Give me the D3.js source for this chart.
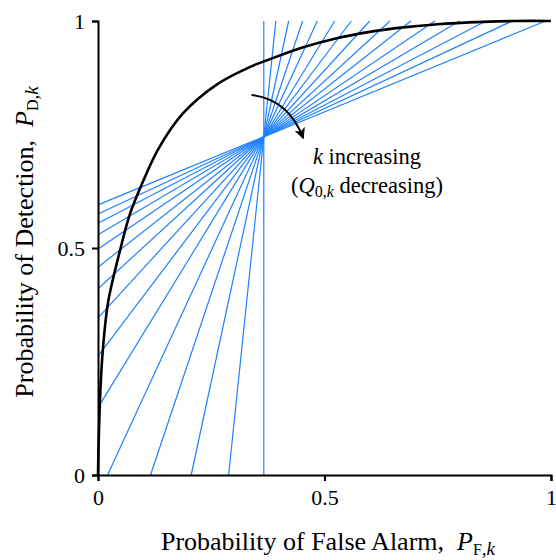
<!DOCTYPE html>
<html>
<head>
<meta charset="utf-8">
<script src="https://cdn.jsdelivr.net/npm/d3@7"></script>
<style>
  body { margin: 0; background: #fff; }
  svg text { font-family: "Liberation Serif", "Times New Roman", Times, "Nimbus Roman", "DejaVu Serif", serif !important; fill: #000; }
</style>
</head>
<body>
<div class="chart"></div>
<script>
// ROC curve
var rocPF = [0, 0.001, 0.0044, 0.008, 0.014, 0.023, 0.05, 0.0706, 0.1, 0.133, 0.188, 0.262, 0.336, 0.38, 0.453, 0.527, 0.6, 0.674, 0.75, 0.85, 0.92, 1];
var rocPD = [0, 0.055, 0.165, 0.238, 0.313, 0.385, 0.5, 0.575, 0.648, 0.718, 0.797, 0.86, 0.899, 0.916, 0.942, 0.962, 0.976, 0.986, 0.993, 0.998, 1, 1];

// pencil of lines through one point, one slope per k
var pivot = [0.366, 0.745];
var slopes = [0.41, 0.465, 0.52, 0.59, 0.675, 0.785, 0.915, 1.09, 1.32, 1.63, 2.16, 2.98, 4.65, 9.6, Infinity];

var tickValues = [0, 0.5, 1];
var tickLabels = ["0", "0.5", "1"];

// arrow: start, control, end
var arrowPts = [[0.339, 0.837], [0.4205, 0.827], [0.453, 0.742]];

var svg = d3.select("div.chart")
            .append("svg")
            .attr("width", 556)
            .attr("height", 560);

var x = d3.scaleLinear().domain([0, 1]).range([98, 551]);
var y = d3.scaleLinear().domain([0, 1]).range([475, 21]);

// clip a line of slope m through the pivot to the unit square
function ends(m){
  var x0 = pivot[0], y0 = pivot[1];
  if (!isFinite(m)) return [[x0, 0], [x0, 1]];
  var yl = y0 - m * x0;
  var lo = yl >= 0 ? [0, yl] : [x0 - y0 / m, 0];
  var yr = y0 + m * (1 - x0);
  var hi = yr <= 1 ? [1, yr] : [x0 + (1 - y0) / m, 1];
  return [lo, hi];
}

svg.selectAll(".kline")
    .data(slopes)
    .enter()
    .append("line")
      .attr("class", "kline")
      .attr("x1", function(d){ return x(ends(d)[0][0]); })
      .attr("y1", function(d){ return y(ends(d)[0][1]); })
      .attr("x2", function(d){ return x(ends(d)[1][0]); })
      .attr("y2", function(d){ return y(ends(d)[1][1]); })
      .attr("stroke", "#1f80ff")
      .attr("stroke-width", 1.2);

var line = d3.line()
    .x(function(d){ return x(d[0]); })
    .y(function(d){ return y(d[1]); })
    .curve(d3.curveCatmullRom.alpha(0.5));

svg.append("path")
    .datum(d3.zip(rocPF, rocPD))
    .attr("d", line)
    .attr("fill", "none")
    .attr("stroke", "#000")
    .attr("stroke-width", 2.6);

//axes
var xAxis = d3.axisBottom(x).tickValues(tickValues)
    .tickFormat(function(d, i){ return tickLabels[i]; })
    .tickSize(6).tickPadding(6);
var yAxis = d3.axisLeft(y).tickValues(tickValues)
    .tickFormat(function(d, i){ return tickLabels[i]; })
    .tickSize(6).tickPadding(7);

var gx = svg.append("g").attr("transform", "translate(0,475)").call(xAxis);
var gy = svg.append("g").attr("transform", "translate(98,0)").call(yAxis);

[gx, gy].forEach(function(g){
  g.attr("font-family", null);
  g.selectAll("path, line").attr("stroke", "#000").attr("stroke-width", 2);
  g.selectAll("text")
    .attr("font-size", 22)
    .attr("fill", "#000");
});
gx.selectAll("text").attr("dy", "0.8em");
gy.selectAll("text").attr("dy", "0.33em");

//axis titles
var xt = svg.append("text")
    .attr("x", 328).attr("y", 550)
    .attr("text-anchor", "middle")
    .attr("font-size", 26);
xt.append("tspan").text("Probability of False Alarm,\u00a0\u00a0");
xt.append("tspan").attr("font-style", "italic").text("P");
xt.append("tspan").attr("font-size", 16).attr("dy", 5).text("F");
xt.append("tspan").attr("font-size", 19).attr("font-style", "italic").text(",k");

var yt = svg.append("text")
    .attr("transform", "translate(33,242) rotate(-90)")
    .attr("text-anchor", "middle")
    .attr("font-size", 26);
yt.append("tspan").text("Probability of Detection,\u00a0\u00a0");
yt.append("tspan").attr("font-style", "italic").text("P");
yt.append("tspan").attr("font-size", 16).attr("dy", 5).text("D");
yt.append("tspan").attr("font-size", 19).attr("font-style", "italic").text(",k");

//annotation arrow
svg.append("defs").append("marker")
    .attr("id", "head")
    .attr("viewBox", "0 0 10 10")
    .attr("refX", 9).attr("refY", 5)
    .attr("markerWidth", 11).attr("markerHeight", 11)
    .attr("markerUnits", "userSpaceOnUse")
    .attr("orient", "auto")
  .append("path")
    .attr("d", "M0,0L10,5L0,10L2.5,5Z")
    .attr("fill", "#000");

var ap = arrowPts.map(function(p){ return [x(p[0]), y(p[1])]; });
svg.append("path")
    .attr("d", "M" + ap[0] + "Q" + ap[1] + " " + ap[2])
    .attr("fill", "none")
    .attr("stroke", "#000")
    .attr("stroke-width", 2)
    .attr("marker-end", "url(#head)");

var t1 = svg.append("text")
    .attr("x", 367).attr("y", 164)
    .attr("text-anchor", "middle")
    .attr("font-size", 22.5);
t1.append("tspan").attr("font-style", "italic").text("k");
t1.append("tspan").text(" increasing");

var t2 = svg.append("text")
    .attr("x", 367).attr("y", 193)
    .attr("text-anchor", "middle")
    .attr("font-size", 22.5);
t2.append("tspan").text("(");
t2.append("tspan").attr("font-style", "italic").text("Q");
t2.append("tspan").attr("font-size", 16).attr("dy", 4).text("0,");
t2.append("tspan").attr("font-size", 16).attr("font-style", "italic").text("k");
t2.append("tspan").attr("dy", -4).text(" decreasing)");
</script>
</body>
</html>
